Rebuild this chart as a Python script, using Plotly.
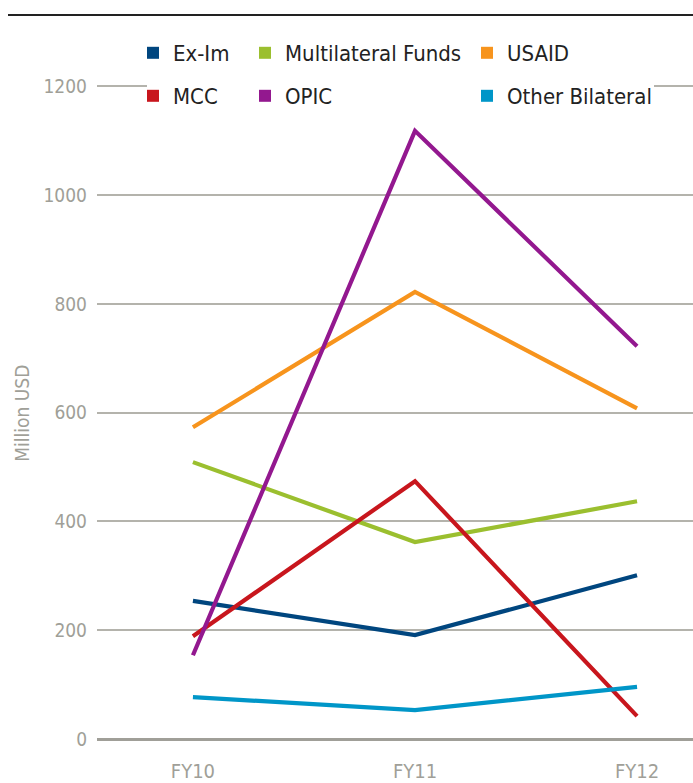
import plotly.graph_objects as go

years = ["FY10", "FY11", "FY12"]
x_pos = [0, 1, 2]

ex_im = [254, 191, 301]
multilateral = [509, 362, 437]
usaid = [573, 822, 608]
mcc = [189, 474, 42]
opic = [154, 1118, 722]
other_bilateral = [77, 53, 96]

series_names = ["Ex-Im", "Multilateral Funds", "USAID", "MCC", "OPIC", "Other Bilateral"]
series_values = [ex_im, multilateral, usaid, mcc, opic, other_bilateral]
colors = ["#00467f", "#9bbf2f", "#f7941d", "#c8161d", "#93188f", "#0096c8"]

y_ticks = [0, 200, 400, 600, 800, 1000, 1200]

FONT = "DejaVu Sans Condensed, Liberation Sans Narrow, sans-serif"
W, H = 693, 783
ML, MR, MT, MB = 97, 0, 15, 38
PW = W - ML - MR
PH = H - MT - MB

def px_x(p):
    return (p - ML) / PW

def px_y(p):
    return (H - MB - p) / PH

fig = go.Figure()

for name, vals, col in zip(series_names, series_values, colors):
    fig.add_trace(go.Scatter(
        x=x_pos, y=vals, mode="lines", name=name,
        line=dict(color=col, width=4.2), showlegend=False,
        hoverinfo="x+y+name"))

legend_cols = [153, 265, 487]
legend_rows = [53, 96]
for i, (name, col) in enumerate(zip(series_names, colors)):
    lid = "legend" if i == 0 else f"legend{i+1}"
    fig.add_trace(go.Scatter(
        x=[None], y=[None], mode="markers", name=name,
        marker=dict(symbol="square", size=12, color=col),
        showlegend=True, legend=lid))

legend_layout = {}
for i in range(6):
    lid = "legend" if i == 0 else f"legend{i+1}"
    r, c = divmod(i, 3)
    legend_layout[lid] = dict(
        x=px_x(legend_cols[c] - 20), y=px_y(legend_rows[r]),
        xanchor="left", yanchor="middle",
        bgcolor="rgba(0,0,0,0)", borderwidth=0,
        font=dict(family=FONT, size=22, color="#222222"),
        itemclick=False, itemdoubleclick=False,
    )

fig.update_layout(
    width=W, height=H,
    margin=dict(l=ML, r=MR, t=MT, b=MB, pad=0, autoexpand=False),
    paper_bgcolor="white", plot_bgcolor="white",
    showlegend=True,
    **legend_layout,
    xaxis=dict(
        range=[-0.432, 2.252], tickmode="array", tickvals=x_pos, ticktext=years,
        showgrid=False, zeroline=False, showline=False, ticks="",
        automargin=False, ticklabelstandoff=12,
        tickfont=dict(family=FONT, size=20, color="#a09f98"),
        fixedrange=True,
    ),
    yaxis=dict(
        range=[-11, 1331], tickmode="array", tickvals=y_ticks,
        showgrid=True, gridcolor="#b4b3ac", gridwidth=1.5,
        zeroline=True, zerolinecolor="#a09f98", zerolinewidth=3,
        showline=False, ticks="", automargin=False, ticklabelstandoff=9,
        tickfont=dict(family=FONT, size=19, color="#a09f98"),
        fixedrange=True,
    ),
    annotations=[dict(
        text="Million USD", xref="paper", yref="y", x=px_x(22), y=600,
        xanchor="center", yanchor="middle", textangle=-90, showarrow=False,
        font=dict(family=FONT, size=19, color="#a09f98"))],
    shapes=[
        dict(type="line", xref="paper", yref="paper",
             x0=px_x(8), x1=1, y0=1, y1=1,
             line=dict(color="#222222", width=2)),
        dict(type="rect", xref="paper", yref="paper", layer="above",
             x0=px_x(147), x1=px_x(654), y0=px_y(93), y1=px_y(79),
             fillcolor="white", line=dict(width=0)),
    ],
)

fig.write_html(
    "out.html",
    config={"displayModeBar": False},
    post_script="document.body.style.margin='0';document.body.style.overflow='hidden';",
)
